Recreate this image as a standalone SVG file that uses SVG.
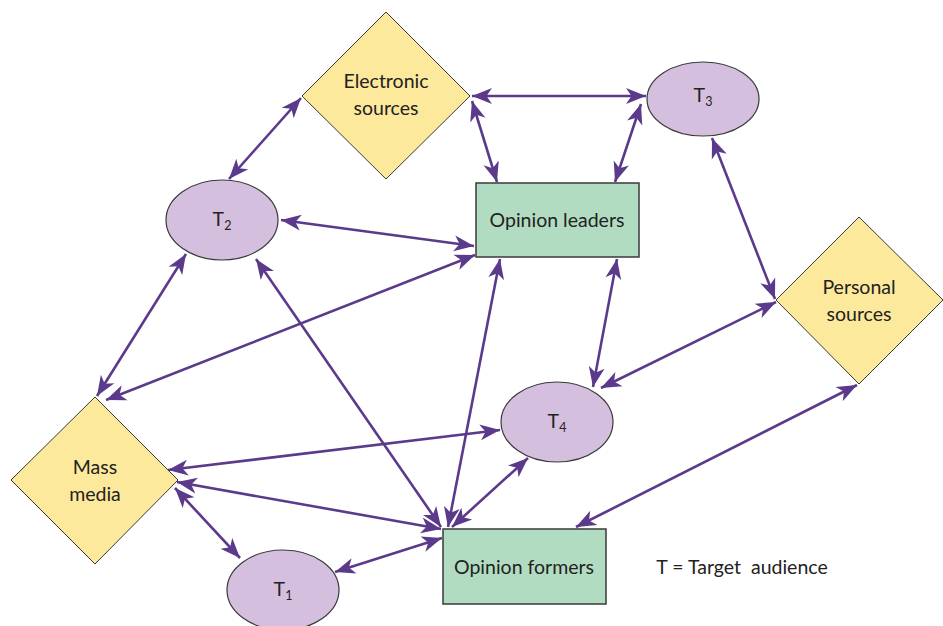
<svg xmlns="http://www.w3.org/2000/svg" width="943" height="626" viewBox="0 0 943 626">
<defs>
<marker id="ah" markerWidth="22" markerHeight="18" refX="20" refY="9" orient="auto-start-reverse" markerUnits="userSpaceOnUse">
<path d="M0,1 L20,9 L0,17 L5.5,9 Z" fill="#5b3a8c"/>
</marker>
<style>
.c{stroke:#5b3a8c;stroke-width:2.6;fill:none;marker-start:url(#ah);marker-end:url(#ah)}
.d{fill:#fde99b;stroke:#3a3a3a;stroke-width:1}
.e{fill:#d4bfdf;stroke:#3a3a3a;stroke-width:1.2}
.r{fill:#b2dcc1;stroke:#3a3a3a;stroke-width:1.5}
text{font-family:Lato,"Open Sans","Liberation Sans",sans-serif;font-size:19.5px;fill:#222222;text-anchor:middle}
.s{font-size:12.5px}
</style>
</defs>
<rect width="943" height="626" fill="#ffffff"/>
<g id="connectors">
<line class="c" x1="301" y1="98" x2="229" y2="179"/>
<line class="c" x1="472" y1="96" x2="646" y2="96"/>
<line class="c" x1="472" y1="101" x2="497" y2="182"/>
<line class="c" x1="641" y1="104" x2="615" y2="182"/>
<line class="c" x1="712" y1="138" x2="775" y2="299"/>
<line class="c" x1="281" y1="220" x2="474" y2="246"/>
<line class="c" x1="186" y1="254" x2="97" y2="396"/>
<line class="c" x1="475" y1="255" x2="106" y2="400"/>
<line class="c" x1="256" y1="259" x2="441" y2="527"/>
<line class="c" x1="500" y1="259" x2="448" y2="527"/>
<line class="c" x1="617" y1="259" x2="593" y2="387"/>
<line class="c" x1="776" y1="302" x2="601" y2="388"/>
<line class="c" x1="168" y1="470" x2="500" y2="430"/>
<line class="c" x1="177" y1="482" x2="441" y2="529"/>
<line class="c" x1="175" y1="488" x2="240" y2="558"/>
<line class="c" x1="528" y1="458" x2="452" y2="527"/>
<line class="c" x1="335" y1="572" x2="442" y2="538"/>
<line class="c" x1="857" y1="385" x2="576" y2="527"/>
</g>
<g id="electronic-sources">
<polygon class="d" points="386,12 470,96 386,179 302,96"/>
<text x="386" y="88">Electronic</text>
<text x="386" y="115">sources</text>
</g>
<g id="personal-sources">
<polygon class="d" points="859,217 943,300 859,384 776,300"/>
<text x="859" y="294">Personal</text>
<text x="859" y="321">sources</text>
</g>
<g id="mass-media">
<polygon class="d" points="95,397 178,480 95,564 11,480"/>
<text x="95" y="474">Mass</text>
<text x="95" y="501">media</text>
</g>
<g id="opinion-leaders">
<rect class="r" x="476" y="183" width="163" height="74"/>
<text x="557" y="227">Opinion leaders</text>
</g>
<g id="opinion-formers">
<rect class="r" x="443" y="529" width="163" height="75"/>
<text x="524" y="574">Opinion formers</text>
</g>
<g id="t3">
<ellipse class="e" cx="703" cy="99" rx="56" ry="37"/>
<text x="703" y="102">T<tspan class="s" dy="4">3</tspan></text>
</g>
<g id="t2">
<ellipse class="e" cx="222" cy="220" rx="56" ry="40"/>
<text x="222" y="226">T<tspan class="s" dy="4">2</tspan></text>
</g>
<g id="t4">
<ellipse class="e" cx="557" cy="422" rx="56" ry="40"/>
<text x="557" y="428">T<tspan class="s" dy="4">4</tspan></text>
</g>
<g id="t1">
<ellipse class="e" cx="283" cy="590" rx="56" ry="40"/>
<text x="283" y="596">T<tspan class="s" dy="4">1</tspan></text>
</g>
<g id="legend">
<text x="742" y="574" xml:space="preserve">T = Target  audience</text>
</g>
</svg>
